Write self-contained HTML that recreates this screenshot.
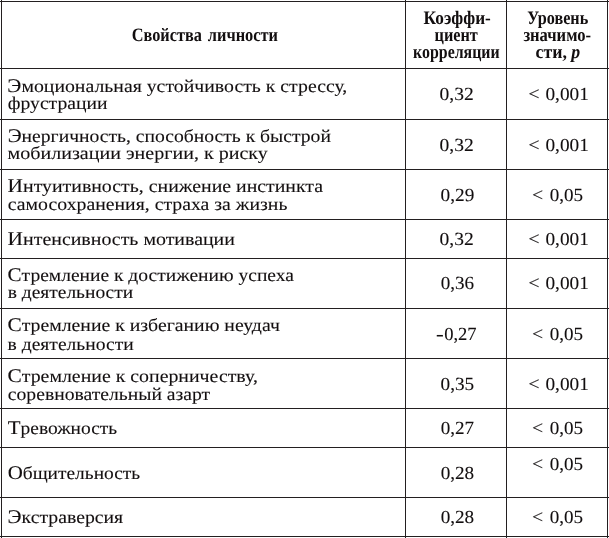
<!DOCTYPE html><html><head><meta charset="utf-8"><style>html,body{margin:0;padding:0;background:#fff;width:609px;height:538px;overflow:hidden}svg{display:block;will-change:transform}</style></head><body>
<svg text-rendering="geometricPrecision" width="609" height="538" viewBox="0 0 609 538">
<rect x="0" y="1" width="609" height="1" fill="#231f20"/>
<rect x="0" y="68" width="609" height="1" fill="#231f20"/>
<rect x="0" y="119" width="609" height="1" fill="#231f20"/>
<rect x="0" y="169" width="609" height="1" fill="#231f20"/>
<rect x="0" y="219" width="609" height="1" fill="#231f20"/>
<rect x="0" y="258" width="609" height="1" fill="#231f20"/>
<rect x="0" y="308" width="609" height="1" fill="#231f20"/>
<rect x="0" y="358" width="609" height="1" fill="#231f20"/>
<rect x="0" y="408" width="609" height="1" fill="#231f20"/>
<rect x="0" y="447" width="609" height="1" fill="#231f20"/>
<rect x="0" y="497" width="609" height="1" fill="#231f20"/>
<rect x="0" y="536" width="609" height="1" fill="#231f20"/>
<rect x="1" y="0" width="1" height="538" fill="#231f20"/>
<rect x="405" y="0" width="1" height="538" fill="#231f20"/>
<rect x="506" y="0" width="1" height="538" fill="#231f20"/>
<rect x="607" y="0" width="1" height="538" fill="#231f20"/>
<g font-family="'Liberation Serif', serif" font-size="18.0" fill="#120e0f" stroke="#120e0f" stroke-width="0.1" stroke-linejoin="round">
<text x="7.32" y="91.5" textLength="340.02" lengthAdjust="spacingAndGlyphs"><tspan font-size="19.4">Э</tspan>моциональная устойчивость к стрессу,</text>
<text x="7.85" y="109.2" textLength="99.58" lengthAdjust="spacingAndGlyphs">фрустрации</text>
<text x="7.65" y="141.7" textLength="323.25" lengthAdjust="spacingAndGlyphs"><tspan font-size="19.4">Э</tspan>нергичность, способность к быстрой</text>
<text x="7.59" y="158.8" textLength="260.22" lengthAdjust="spacingAndGlyphs">мобилизации энергии, к риску</text>
<text x="7.61" y="191.6" textLength="315.46" lengthAdjust="spacingAndGlyphs"><tspan font-size="19.4">И</tspan>нтуитивность, снижение инстинкта</text>
<text x="7.82" y="209.9" textLength="279.60" lengthAdjust="spacingAndGlyphs">самосохранения, страха за жизнь</text>
<text x="7.59" y="244.7" textLength="227.34" lengthAdjust="spacingAndGlyphs"><tspan font-size="19.4">И</tspan>нтенсивность мотивации</text>
<text x="7.59" y="280.8" textLength="286.33" lengthAdjust="spacingAndGlyphs"><tspan font-size="19.4">С</tspan>тремление к достижению успеха</text>
<text x="7.68" y="298.0" textLength="125.53" lengthAdjust="spacingAndGlyphs">в деятельности</text>
<text x="7.48" y="330.8" textLength="272.35" lengthAdjust="spacingAndGlyphs"><tspan font-size="19.4">С</tspan>тремление к избеганию неудач</text>
<text x="7.64" y="349.7" textLength="126.01" lengthAdjust="spacingAndGlyphs">в деятельности</text>
<text x="7.49" y="382.1" textLength="250.48" lengthAdjust="spacingAndGlyphs"><tspan font-size="19.4">С</tspan>тремление к соперничеству,</text>
<text x="7.83" y="399.7" textLength="202.35" lengthAdjust="spacingAndGlyphs">соревновательный азарт</text>
<text x="7.76" y="434.1" textLength="109.37" lengthAdjust="spacingAndGlyphs"><tspan font-size="19.4">Т</tspan>ревожность</text>
<text x="7.65" y="478.5" textLength="132.53" lengthAdjust="spacingAndGlyphs"><tspan font-size="19.4">О</tspan>бщительность</text>
<text x="7.60" y="522.8" textLength="115.54" lengthAdjust="spacingAndGlyphs"><tspan font-size="19.4">Э</tspan>кстраверсия</text>
<text x="439.56" y="100.0" font-size="18.5" textLength="34.15" lengthAdjust="spacingAndGlyphs">0,32</text>
<text x="528.26" y="100.0" font-size="18.5" textLength="11.37" lengthAdjust="spacingAndGlyphs">&lt;</text>
<text x="545.46" y="100.0" font-size="18.5" textLength="43.37" lengthAdjust="spacingAndGlyphs">0,001</text>
<text x="439.56" y="151.2" font-size="18.5" textLength="34.15" lengthAdjust="spacingAndGlyphs">0,32</text>
<text x="528.26" y="151.2" font-size="18.5" textLength="11.37" lengthAdjust="spacingAndGlyphs">&lt;</text>
<text x="545.46" y="151.2" font-size="18.5" textLength="43.37" lengthAdjust="spacingAndGlyphs">0,001</text>
<text x="440.59" y="200.9" font-size="18.5" textLength="33.73" lengthAdjust="spacingAndGlyphs">0,29</text>
<text x="531.98" y="200.9" font-size="18.5" textLength="11.16" lengthAdjust="spacingAndGlyphs">&lt;</text>
<text x="549.76" y="200.9" font-size="18.5" textLength="33.37" lengthAdjust="spacingAndGlyphs">0,05</text>
<text x="439.56" y="245.0" font-size="18.5" textLength="34.15" lengthAdjust="spacingAndGlyphs">0,32</text>
<text x="528.26" y="245.0" font-size="18.5" textLength="11.37" lengthAdjust="spacingAndGlyphs">&lt;</text>
<text x="545.46" y="245.0" font-size="18.5" textLength="43.37" lengthAdjust="spacingAndGlyphs">0,001</text>
<text x="440.66" y="288.8" font-size="18.5" textLength="33.38" lengthAdjust="spacingAndGlyphs">0,36</text>
<text x="528.26" y="288.8" font-size="18.5" textLength="11.37" lengthAdjust="spacingAndGlyphs">&lt;</text>
<text x="545.46" y="288.8" font-size="18.5" textLength="43.37" lengthAdjust="spacingAndGlyphs">0,001</text>
<text x="436.11" y="339.6" font-size="18.5" textLength="7.73" lengthAdjust="spacingAndGlyphs">-</text>
<text x="444.15" y="339.6" font-size="18.5" textLength="32.47" lengthAdjust="spacingAndGlyphs">0,27</text>
<text x="531.98" y="339.6" font-size="18.5" textLength="11.16" lengthAdjust="spacingAndGlyphs">&lt;</text>
<text x="549.76" y="339.6" font-size="18.5" textLength="33.37" lengthAdjust="spacingAndGlyphs">0,05</text>
<text x="440.64" y="389.7" font-size="18.5" textLength="33.58" lengthAdjust="spacingAndGlyphs">0,35</text>
<text x="528.26" y="389.7" font-size="18.5" textLength="11.37" lengthAdjust="spacingAndGlyphs">&lt;</text>
<text x="545.46" y="389.7" font-size="18.5" textLength="43.37" lengthAdjust="spacingAndGlyphs">0,001</text>
<text x="440.65" y="433.9" font-size="18.5" textLength="33.37" lengthAdjust="spacingAndGlyphs">0,27</text>
<text x="531.98" y="433.9" font-size="18.5" textLength="11.16" lengthAdjust="spacingAndGlyphs">&lt;</text>
<text x="549.76" y="433.9" font-size="18.5" textLength="33.37" lengthAdjust="spacingAndGlyphs">0,05</text>
<text x="440.65" y="478.6" font-size="18.5" textLength="33.54" lengthAdjust="spacingAndGlyphs">0,28</text>
<text x="531.98" y="469.7" font-size="18.5" textLength="11.16" lengthAdjust="spacingAndGlyphs">&lt;</text>
<text x="549.76" y="469.7" font-size="18.5" textLength="33.37" lengthAdjust="spacingAndGlyphs">0,05</text>
<text x="440.65" y="522.6" font-size="18.5" textLength="33.54" lengthAdjust="spacingAndGlyphs">0,28</text>
<text x="531.98" y="522.6" font-size="18.5" textLength="11.16" lengthAdjust="spacingAndGlyphs">&lt;</text>
<text x="549.76" y="522.6" font-size="18.5" textLength="33.37" lengthAdjust="spacingAndGlyphs">0,05</text>
</g>
<g font-family="'Liberation Serif', serif" font-size="19.0" font-weight="bold" fill="#120e0f">
<text x="131.70" y="40.7" textLength="70.17" lengthAdjust="spacingAndGlyphs">Свойства</text>
<text x="207.84" y="40.7" textLength="70.16" lengthAdjust="spacingAndGlyphs">личности</text>
<text x="423.50" y="24.3" textLength="67.35" lengthAdjust="spacingAndGlyphs">Коэффи-</text>
<text x="434.51" y="41.0" textLength="43.35" lengthAdjust="spacingAndGlyphs">циент</text>
<text x="413.11" y="58.3" textLength="86.56" lengthAdjust="spacingAndGlyphs">корреляции</text>
<text x="527.14" y="23.9" textLength="61.11" lengthAdjust="spacingAndGlyphs">Уровень</text>
<text x="523.39" y="40.6" textLength="67.66" lengthAdjust="spacingAndGlyphs">значимо-</text>
<text x="535.51" y="58.1" textLength="44.67" lengthAdjust="spacingAndGlyphs">сти, <tspan font-style='italic'>p</tspan></text>
</g>
</svg></body></html>
